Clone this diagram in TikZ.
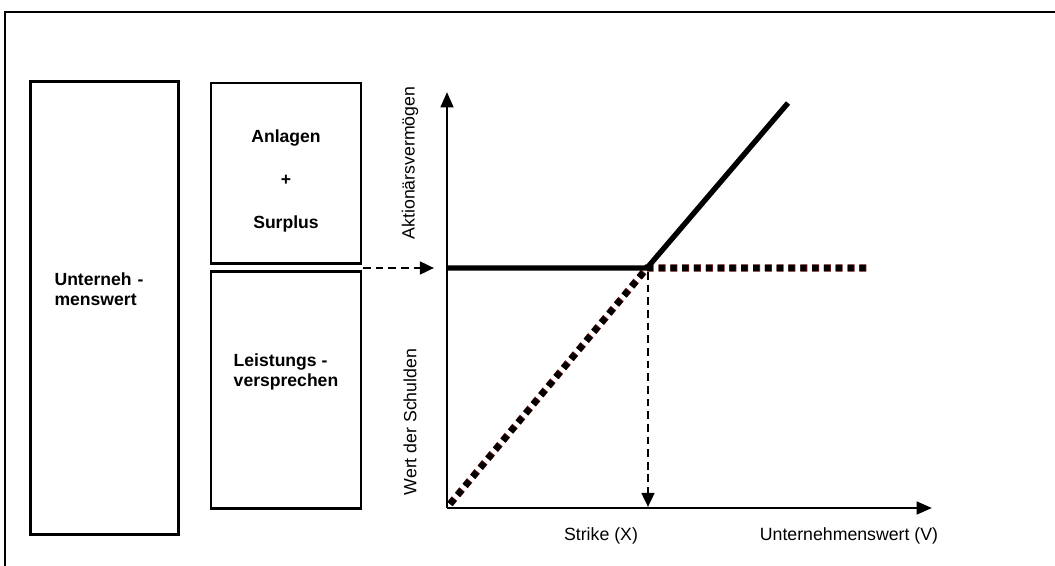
\documentclass[tikz,border=0pt]{standalone}
\usepackage{fontspec}
\setmainfont{Liberation Sans}
\usetikzlibrary{arrows.meta}
\definecolor{debtred}{RGB}{110,20,20}
\tikzstyle{block} = [rectangle, draw=black, line width=2.1pt, inner sep=0pt]
\tikzstyle{boxtext} = [font=\bfseries\fontsize{12.5}{14.5}\selectfont, align=left]
\tikzstyle{axis} = [line width=2pt, -{Triangle[length=11pt, width=9pt]}]
\tikzstyle{payoff} = [line width=3.8pt, line join=miter]
\tikzstyle{debt} = [line width=4.4pt, draw=black, dash pattern=on 4.4pt off 4pt, preaction={draw=debtred, line width=5pt, dash pattern=on 5pt off 3.4pt}]
\tikzstyle{guide} = [line width=1.9pt, dash pattern=on 5.5pt off 3.5pt, -{Triangle[length=10pt, width=9pt]}]
\tikzstyle{label} = [font=\fontsize{12.6}{14}\selectfont]

\begin{document}
\begin{tikzpicture}[x=0.025cm, y=-0.025cm]
\useasboundingbox (0,0) rectangle (1055,566);
\draw [line width=1.5pt] (5,12) rectangle (1075,590);

\node (firm) [block, minimum width=3.68cm, minimum height=11.3cm] at (104.5,308) {};
\node (firmtext) [boxtext] at (99,289) {Unterneh\,\,-\\menswert};
\node (assets) [block, minimum width=3.75cm, minimum height=4.5cm] at (286,173) {};
\node (assetstext) [boxtext, align=center, font=\bfseries\fontsize{12.5}{30.5}\selectfont] at (286,181) {Anlagen\\+\\Surplus};
\node (promise) [block, minimum width=3.75cm, minimum height=5.9cm] at (286,390) {};
\node (promisetext) [boxtext] at (286,372) {Leistungs -\\versprechen};

\coordinate (O) at (447,508);
\coordinate (ytip) at (447,92);
\coordinate (xtip) at (932,508);
\coordinate (level) at (447,268);
\coordinate (kink) at (647,268);
\coordinate (upper) at (788,103);
\coordinate (flat) at (870,268);
\coordinate (dstart) at (450,504);
\coordinate (gap) at (363,268);
\coordinate (gapend) at (434,268);
\coordinate (strike) at (648,272);
\coordinate (strikeend) at (648,507);

\draw [axis] (O) -- (ytip);
\draw [axis] (O) -- (xtip);

\node (shareholders) [label, rotate=90] at (410,163) {Aktionärsvermögen};
\node (debtvalue) [label, rotate=90] at (410,422) {Wert der Schulden};
\node (strikelabel) [label] at (601,536) {Strike (X)};
\node (firmvalue) [label] at (849,536) {Unternehmenswert (V)};

\draw [debt] (dstart) -- (kink) -- (flat);
\draw [payoff] (level) -- (kink) -- (upper);
\draw [guide] (gap) -- (gapend);
\draw [guide] (strike) -- (strikeend);

\end{tikzpicture}
\end{document}
